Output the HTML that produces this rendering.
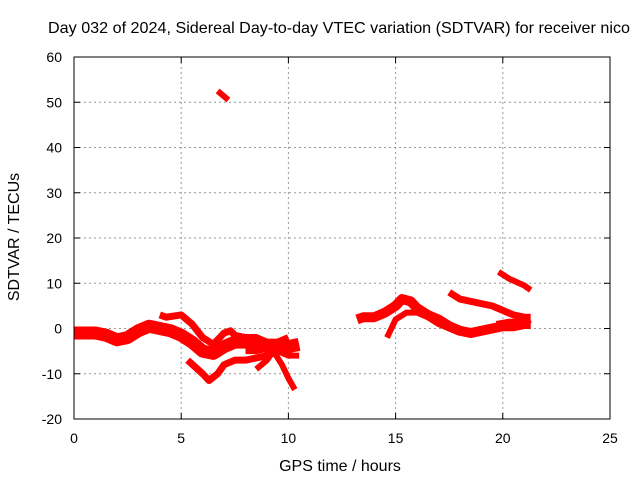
<!DOCTYPE html>
<html><head><meta charset="utf-8"><style>
body{margin:0;background:#fff}
svg{display:block;font-family:"Liberation Sans",sans-serif}
</style></head><body>
<svg id="chart" width="640" height="480">
<text x="339" y="33" text-anchor="middle" font-size="16" textLength="582" lengthAdjust="spacingAndGlyphs">Day 032 of 2024, Sidereal Day-to-day VTEC variation (SDTVAR) for receiver nico</text>
<text x="340" y="471" text-anchor="middle" font-size="16">GPS time / hours</text>
<text transform="translate(19,237) rotate(-90)" text-anchor="middle" font-size="16">SDTVAR / TECUs</text>
<g id="grid"></g><g id="series"></g>
<rect x="74" y="57" width="536" height="362" fill="none" stroke="#000" stroke-width="1"/>
</svg>
<script>
const xTicks=[0,5,10,15,20,25];
const yTicks=[-20,-10,0,10,20,30,40,50,60];
const trackA=[[0,-1],[0.5,-1],[1,-1],[1.5,-1.5],[2,-2.5],[2.5,-2],[3,-0.5],[3.5,0.5],[4,0],[4.5,-0.5],[5,-1.5],[5.5,-3],[6,-5],[6.5,-5.5],[7,-4],[7.5,-3],[8,-3],[8.5,-3],[9,-4],[9.5,-4],[10,-4],[10.5,-3.5]];
const trackB=[[4,3],[4.3,2.5],[5,3],[5.5,1],[6,-2],[6.5,-3.5],[7,-1],[7.3,-0.5],[7.5,-1.5],[8,-2],[8.5,-2],[9,-3],[9.5,-3],[10,-2]];
const trackC=[[5.3,-7],[6,-10],[6.3,-11.5],[6.7,-10],[7,-8],[7.5,-7],[8,-7],[8.5,-6.5],[9,-6],[9.5,-5],[10,-5.5]];
const trackD=[[8,-5],[8.5,-5],[9,-4.5],[9.5,-5],[10,-6],[10.5,-6]];
const trackE=[[8.5,-9],[9,-7],[9.3,-5],[9.7,-8],[10,-11],[10.3,-13.5]];
const trackF=[[6.7,52.5],[7.2,50.5]];
const trackG=[[13.2,2],[13.5,2.5],[14,2.5],[14.5,3.5],[15,5],[15.3,6.5],[15.7,6],[16,4.5],[16.5,3],[17,2],[17.5,0.5],[18,-0.5],[18.5,-1],[19,-0.5],[19.5,0],[20,0.5],[20.5,0.5],[21,1],[21.3,1]];
const trackH=[[14.6,-2],[14.8,0],[15,2],[15.5,3.5],[16,3.5],[16.5,2.5],[17,1],[17.5,0],[18,-1]];
const trackI=[[17.5,8],[18,6.5],[19,5.5],[19.5,5],[20,4],[20.5,3],[21,2.5],[21.3,2.5]];
const trackJ=[[19.8,12.5],[20.3,11],[21,9.5],[21.3,8.5]];
const trackK=[[19.7,1],[20.3,1.5],[21,1.5],[21.3,1]];
const tracks=[trackA,trackB,trackC,trackD,trackE,trackF,trackG,trackH,trackI,trackJ,trackK];
const widths=[13,7,7,6,6,6,10,6,7,6,6];
const X=h=>74+h*536/25, Y=v=>419-(v+20)*362/80;
const NS="http://www.w3.org/2000/svg";
const svg=document.getElementById('chart'),g=document.getElementById('grid'),s=document.getElementById('series');
function mk(t,a,p){const e=document.createElementNS(NS,t);for(const k in a)e.setAttribute(k,a[k]);(p||g).appendChild(e);return e;}
xTicks.forEach(t=>{const x=X(t);
 if(t>0&&t<25){const l=mk('line',{x1:x,x2:x,y1:57,y2:419,stroke:'#999','stroke-dasharray':'2,3'});}
 mk('line',{x1:x,x2:x,y1:419,y2:413,stroke:'#000'});mk('line',{x1:x,x2:x,y1:57,y2:63,stroke:'#000'});
 const tx=mk('text',{x:x,y:443,'text-anchor':'middle','font-size':14});tx.textContent=t;
 });
yTicks.forEach(t=>{const y=Y(t);
 if(t>-20&&t<60){const l=mk('line',{x1:74,x2:610,y1:y,y2:y,stroke:'#999','stroke-dasharray':'2,3'});}
 mk('line',{x1:74,x2:80,y1:y,y2:y,stroke:'#000'});mk('line',{x1:604,x2:610,y1:y,y2:y,stroke:'#000'});
 const tx=mk('text',{x:62,y:y+5,'text-anchor':'end','font-size':14});tx.textContent=t;
 });
tracks.forEach((tr,i)=>{const p=mk('polyline',{points:tr.map(d=>X(d[0])+','+Y(d[1])).join(' '),fill:'none',stroke:'#f00','stroke-width':widths[i],'stroke-linejoin':'round'},s);
 });
</script>
</body></html>
